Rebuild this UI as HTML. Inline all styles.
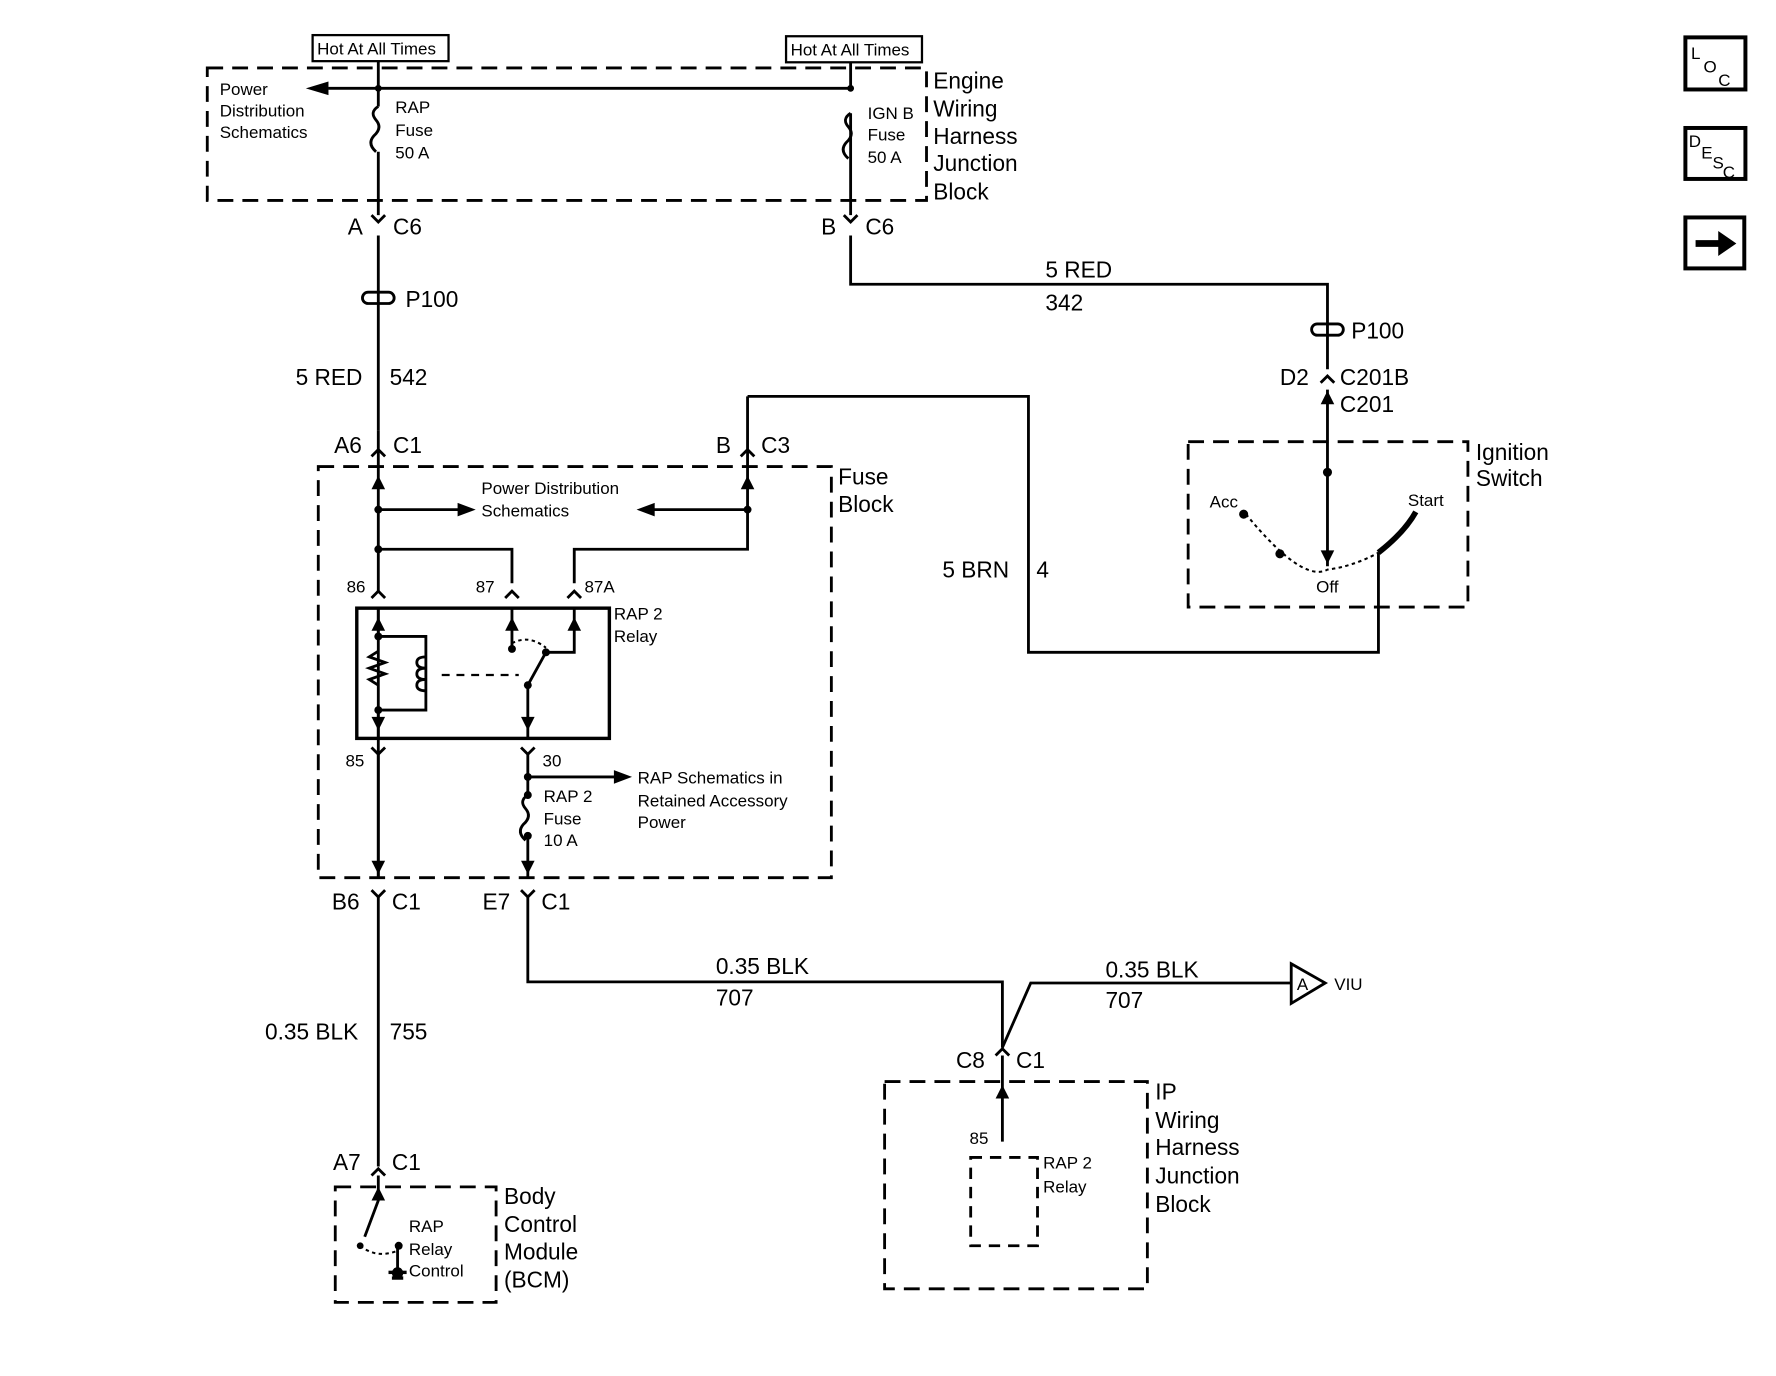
<!DOCTYPE html>
<html><head><meta charset="utf-8"><style>
html,body{margin:0;padding:0;background:#fff;}
svg{display:block;}
text{font-family:"Liberation Sans",Arial,sans-serif;fill:#000;}
.s{font-size:15px;}
.m{font-size:20px;}
.l{font-size:21px;}
</style></head><body>
<svg width="1776" height="1376" viewBox="0 0 1568 1215" preserveAspectRatio="none" xmlns="http://www.w3.org/2000/svg">
<g fill="none" stroke="#000" stroke-width="2.5">
<!-- dashed boxes -->
<rect x="183" y="60" width="635" height="117" stroke-dasharray="14,8"/>
<rect x="281" y="412" width="453" height="363" stroke-dasharray="14,8"/>
<rect x="1049" y="390" width="247" height="146" stroke-dasharray="14,8"/>
<rect x="296" y="1048" width="142" height="102" stroke-dasharray="14,8"/>
<rect x="781" y="955" width="232" height="183" stroke-dasharray="14,8"/>
<rect x="857" y="1022" width="59" height="78" stroke-dasharray="10,7"/>
<!-- hot boxes -->
<rect x="276" y="31" width="120" height="23" stroke-width="2"/>
<rect x="694" y="32" width="120" height="23" stroke-width="2"/>
<!-- top wires -->
<path d="M334 54 V94 M334 134 V190 M334 208 V380"/>
<path d="M334 94 q-8 5 -2 12 q6 7 -2 14 q-6 7 2 14"/>
<path d="M751 55 V78 M751 100 V190"/>
<path d="M751 100 q-8 5 -2 12 q6 7 -2 14 q-6 7 2 14"/>
<path d="M290 78 H751"/>
<path d="M751 208 V251 H1172 V326 M1172 344 V500"/>
<!-- connectors -->
<path d="M328 190 L334 196 L340 190 M745 190 L751 196 L757 190"/>
<path d="M1166 338 L1172 332 L1178 338"/>
<!-- P100 -->
<rect x="320" y="258" width="28" height="10" rx="5"/>
<rect x="1158" y="286" width="28" height="10" rx="5"/>
<!-- fuse block -->
<path d="M328 403 L334 397 L340 403 M654 403 L660 397 L666 403"/>
<path d="M334 380 V523 M334 538 V775"/>
<path d="M660 350 V412 M660 412 V485 H507 V515"/>
<path d="M660 350 H908 V576 H1217 V488"/>
<path d="M334 450 H410 M660 450 H575"/>
<path d="M334 485 H452 V515"/>
<path d="M328 528 L334 522 L340 528 M446 528 L452 522 L458 528 M501 528 L507 522 L513 528"/>
<rect x="315" y="537" width="223" height="115" stroke-width="3"/>
<path d="M334 537 V562 H376 V627 H334 V652"/>
<path d="M334 575 l-8 5 l14 5 l-14 5 l14 5 l-14 5 l8 5"/>
<path d="M376 580 q-8 0 -8 5 q0 5 8 5 q-8 0 -8 5 q0 5 8 5 q-8 0 -8 5 q0 5 8 5"/>
<path d="M390 596 H458" stroke-dasharray="7,6" stroke-width="2"/>
<path d="M452 537 V573 M507 537 V576 H482 L466 605 V652"/>
<path d="M452 568 q15 -8 30 4" stroke-dasharray="3,3" stroke-width="1.8"/>
<path d="M328 660 L334 666 L340 660 M460 660 L466 666 L472 660"/>
<path d="M334 666 V775 M466 666 V702 M466 738 V775"/>
<path d="M466 702 q-8 5 -2 12 q6 7 -2 14 q-6 7 2 14"/>
<path d="M466 686 H545"/>
<path d="M328 786 L334 792 L340 786 M460 786 L466 792 L472 786"/>
<path d="M334 792 V1030 M466 792 V867 H885 V925"/>
<path d="M885 925 L910 868 H1140"/>
<path d="M1140 851 L1170 868 L1140 886 Z"/>
<path d="M879 932 L885 926 L891 932"/>
<path d="M885 932 V1008"/>
<path d="M328 1038 L334 1032 L340 1038 M334 1038 V1060 L322 1092"/>
<path d="M318 1100 q15 12 34 4" stroke-dasharray="3,3" stroke-width="1.8"/>
<path d="M351 1100 V1122"/>
<!-- ignition switch -->
<path d="M1100 454 Q1150 515 1172 503 Q1195 500 1217 488" stroke-dasharray="3,3" stroke-width="1.8"/>
<path d="M1217 488 Q1240 470 1250 452" stroke-width="5"/>
</g>
<g fill="#000">
<polygon points="270,78 290,72 290,84"/>
<polygon points="420,450 404,444 404,456"/>
<polygon points="562,450 578,444 578,456"/>
<polygon points="558,686 542,680 542,692"/>
<polygon points="1172,498 1166,486 1178,486"/>
<polygon points="334,420 328,432 340,432"/><polygon points="660,420 654,432 666,432"/>
<polygon points="334,545 328,557 340,557"/><polygon points="452,545 446,557 458,557"/><polygon points="507,545 501,557 513,557"/>
<polygon points="334,645 328,633 340,633"/><polygon points="466,645 460,633 472,633"/>
<polygon points="334,772 328,760 340,760"/><polygon points="466,772 460,760 472,760"/>
<polygon points="885,958 879,970 891,970"/>
<polygon points="334,1048 328,1060 340,1060"/>
<polygon points="1172,345 1166,357 1178,357"/>
<circle cx="334" cy="78" r="3"/><circle cx="751" cy="78" r="3"/>
<circle cx="334" cy="450" r="3.5"/><circle cx="660" cy="450" r="3.5"/><circle cx="334" cy="485" r="3.5"/>
<circle cx="334" cy="562" r="3.5"/><circle cx="334" cy="627" r="3.5"/>
<circle cx="452" cy="573" r="3.5"/><circle cx="482" cy="576" r="3.5"/><circle cx="466" cy="605" r="3.5"/>
<circle cx="466" cy="686" r="3.5"/><circle cx="466" cy="702" r="3.5"/><circle cx="466" cy="738" r="3.5"/>
<circle cx="1172" cy="417" r="4"/><circle cx="1098" cy="454" r="4"/><circle cx="1130" cy="489" r="4"/>
<circle cx="352" cy="1100" r="3.5"/><circle cx="318" cy="1100" r="3"/>
<rect x="343" y="1122" width="16" height="3"/><rect x="346" y="1127" width="10" height="3"/>
<circle cx="351" cy="1124" r="5"/>
</g>
<!-- icons -->
<g fill="none" stroke="#000" stroke-width="3.5">
<rect x="1488" y="33" width="53" height="46"/>
<rect x="1488" y="113" width="53" height="45"/>
<rect x="1488" y="192" width="52" height="45"/>
</g>
<polygon points="1497,212 1517,212 1517,204 1533,215 1517,226 1517,218 1497,218" fill="#000"/>
<text x="1493" y="52" class="s">L</text><text x="1504" y="64" class="s">O</text><text x="1517" y="76" class="s">C</text>
<text x="1491" y="130" class="s">D</text><text x="1502" y="140" class="s">E</text><text x="1512" y="149" class="s">S</text><text x="1521" y="157" class="s">C</text>
<text x="280" y="48" class="s">Hot At All Times</text>
<text x="698" y="49" class="s">Hot At All Times</text>
<text x="194" y="84" class="s">Power</text><text x="194" y="103" class="s">Distribution</text><text x="194" y="122" class="s">Schematics</text>
<text x="349" y="100" class="s">RAP</text><text x="349" y="120" class="s">Fuse</text><text x="349" y="140" class="s">50 A</text>
<text x="766" y="105" class="s">IGN B</text><text x="766" y="124" class="s">Fuse</text><text x="766" y="144" class="s">50 A</text>
<text x="824" y="78" class="m">Engine</text><text x="824" y="103" class="m">Wiring</text><text x="824" y="127" class="m">Harness</text><text x="824" y="151" class="m">Junction</text><text x="824" y="176" class="m">Block</text>
<text x="307" y="207" class="m">A</text><text x="347" y="207" class="m">C6</text>
<text x="725" y="207" class="m">B</text><text x="764" y="207" class="m">C6</text>
<text x="358" y="271" class="m">P100</text>
<text x="1193" y="299" class="m">P100</text>
<text x="923" y="245" class="m">5 RED</text><text x="923" y="274" class="m">342</text>
<text x="261" y="340" class="m">5 RED</text><text x="344" y="340" class="m">542</text>
<text x="1130" y="340" class="m">D2</text><text x="1183" y="340" class="m">C201B</text><text x="1183" y="364" class="m">C201</text>
<text x="1303" y="406" class="m">Ignition</text><text x="1303" y="429" class="m">Switch</text>
<text x="1068" y="448" class="s">Acc</text><text x="1243" y="447" class="s">Start</text><text x="1162" y="523" class="s">Off</text>
<text x="295" y="400" class="m">A6</text><text x="347" y="400" class="m">C1</text>
<text x="632" y="400" class="m">B</text><text x="672" y="400" class="m">C3</text>
<text x="740" y="428" class="m">Fuse</text><text x="740" y="452" class="m">Block</text>
<text x="425" y="436" class="s">Power Distribution</text><text x="425" y="456" class="s">Schematics</text>
<text x="832" y="510" class="m">5 BRN</text><text x="915" y="510" class="m">4</text>
<text x="306" y="523" class="s">86</text><text x="420" y="523" class="s">87</text><text x="516" y="523" class="s">87A</text>
<text x="542" y="547" class="s">RAP 2</text><text x="542" y="567" class="s">Relay</text>
<text x="305" y="677" class="s">85</text><text x="479" y="677" class="s">30</text>
<text x="563" y="692" class="s">RAP Schematics in</text><text x="563" y="712" class="s">Retained Accessory</text><text x="563" y="731" class="s">Power</text>
<text x="480" y="708" class="s">RAP 2</text><text x="480" y="728" class="s">Fuse</text><text x="480" y="747" class="s">10 A</text>
<text x="293" y="803" class="m">B6</text><text x="346" y="803" class="m">C1</text>
<text x="426" y="803" class="m">E7</text><text x="478" y="803" class="m">C1</text>
<text x="632" y="860" class="m">0.35 BLK</text><text x="632" y="888" class="m">707</text>
<text x="976" y="863" class="m">0.35 BLK</text><text x="976" y="890" class="m">707</text>
<text x="1145" y="874" class="s">A</text><text x="1178" y="874" class="s">VIU</text>
<text x="234" y="918" class="m">0.35 BLK</text><text x="344" y="918" class="m">755</text>
<text x="844" y="943" class="m">C8</text><text x="897" y="943" class="m">C1</text>
<text x="1020" y="971" class="m">IP</text><text x="1020" y="996" class="m">Wiring</text><text x="1020" y="1020" class="m">Harness</text><text x="1020" y="1045" class="m">Junction</text><text x="1020" y="1070" class="m">Block</text>
<text x="856" y="1010" class="s">85</text>
<text x="921" y="1032" class="s">RAP 2</text><text x="921" y="1053" class="s">Relay</text>
<text x="294" y="1033" class="m">A7</text><text x="346" y="1033" class="m">C1</text>
<text x="361" y="1088" class="s">RAP</text><text x="361" y="1108" class="s">Relay</text><text x="361" y="1127" class="s">Control</text>
<text x="445" y="1063" class="m">Body</text><text x="445" y="1088" class="m">Control</text><text x="445" y="1112" class="m">Module</text><text x="445" y="1137" class="m">(BCM)</text>
</svg>
</body></html>
